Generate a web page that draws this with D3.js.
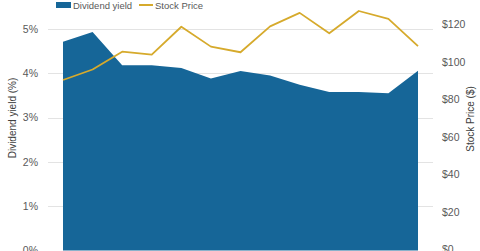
<!DOCTYPE html>
<html>
<head>
<meta charset="utf-8">
<script src="https://cdn.jsdelivr.net/npm/d3@7"></script>
<style>
html,body{margin:0;padding:0;background:#fff;}
svg{display:block;font-family:"Liberation Sans",Arial,sans-serif;}
</style>
</head>
<body>
<svg id="chart" width="480" height="251"></svg>
<script>
const categories = ["P1","P2","P3","P4","P5","P6","P7","P8","P9","P10","P11","P12","P13"];
const dividendYield = [4.71, 4.93, 4.18, 4.18, 4.12, 3.88, 4.05, 3.95, 3.74, 3.58, 3.58, 3.55, 4.06];
const stockPrice = [90.4, 96.0, 105.5, 103.9, 118.8, 108.2, 105.2, 119.0, 126.2, 115.3, 127.2, 123.0, 108.5];
const leftTicks = [0, 1, 2, 3, 4, 5];
const rightTicks = [0, 20, 40, 60, 80, 100, 120];

const svg = d3.select("#chart");
const x = d3.scalePoint().domain(categories).range([63, 418]);
const yL = d3.scaleLinear().domain([0, 5]).range([250.5, 29]);
const yR = d3.scaleLinear().domain([0, 120]).range([249.5, 24.5]);

// gridlines
svg.append("g").selectAll("line").data(leftTicks).join("line")
  .attr("x1", 48).attr("x2", 433)
  .attr("y1", d => Math.round(yL(d)) + 0.5).attr("y2", d => Math.round(yL(d)) + 0.5)
  .attr("stroke", "#e3e3e3").attr("stroke-width", 1);

// area
const area = d3.area()
  .x((d, i) => x(categories[i]))
  .y0(yL(0)).y1(d => yL(d));
svg.append("path").datum(dividendYield)
  .attr("d", area).attr("fill", "#166698");

// line
const line = d3.line()
  .x((d, i) => x(categories[i]))
  .y(d => yR(d));
svg.append("path").datum(stockPrice)
  .attr("d", line).attr("fill", "none")
  .attr("stroke", "#d6aa2c").attr("stroke-width", 1.8).attr("stroke-linejoin", "round");

// left axis
const axL = d3.axisLeft(yL).tickValues(leftTicks).tickSize(0).tickPadding(0)
  .tickFormat(d => d + "%");
const gL = svg.append("g").attr("transform", "translate(38,0)").call(axL);
gL.select(".domain").remove();
gL.selectAll("text").attr("fill", "#595959").attr("font-size", "10.5px")
  .attr("font-family", "Liberation Sans, Arial, sans-serif");

// right axis
const axR = d3.axisRight(yR).tickValues(rightTicks).tickSize(0).tickPadding(0)
  .tickFormat(d => "$" + d);
const gR = svg.append("g").attr("transform", "translate(442,0)").call(axR);
gR.select(".domain").remove();
gR.selectAll("text").attr("fill", "#595959").attr("font-size", "10.5px")
  .attr("font-family", "Liberation Sans, Arial, sans-serif");

// axis titles
svg.append("text").attr("transform", "translate(16,118) rotate(-90)")
  .attr("text-anchor", "middle").attr("font-size", "10px").attr("fill", "#404040")
  .text("Dividend yield (%)");
svg.append("text").attr("transform", "translate(474,119) rotate(-90)")
  .attr("text-anchor", "middle").attr("font-size", "10px").attr("fill", "#404040")
  .text("Stock Price ($)");

// legend
const lg = svg.append("g");
lg.append("rect").attr("x", 56).attr("y", 2).attr("width", 15).attr("height", 6).attr("fill", "#166698");
lg.append("text").attr("x", 73).attr("y", 8.5).attr("font-size", "9.5px").attr("fill", "#595959").text("Dividend yield");
lg.append("line").attr("x1", 139).attr("x2", 153).attr("y1", 5).attr("y2", 5)
  .attr("stroke", "#d6aa2c").attr("stroke-width", 2);
lg.append("text").attr("x", 155).attr("y", 8.5).attr("font-size", "9.5px").attr("fill", "#595959").text("Stock Price");
</script>
</body>
</html>
